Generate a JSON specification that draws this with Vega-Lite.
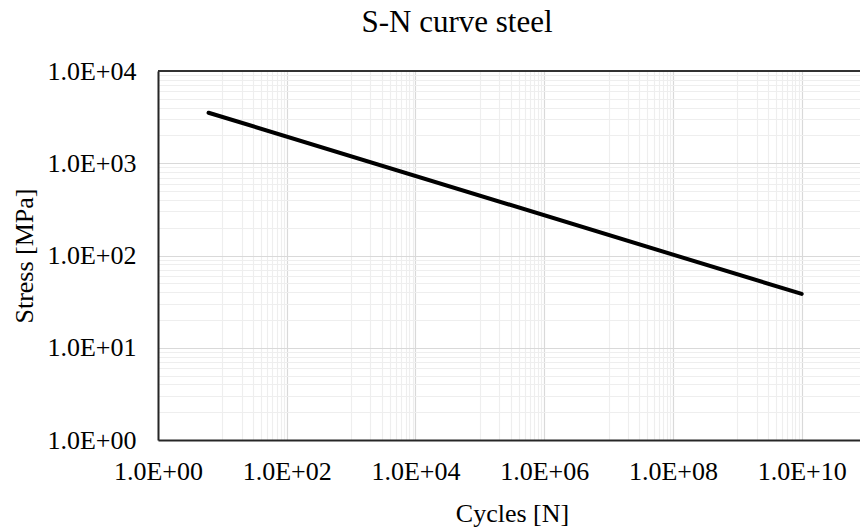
{
  "$schema": "https://vega.github.io/schema/vega-lite/v6.json",
  "width": 702,
  "height": 369,
  "autosize": {"type": "none"},
  "padding": {"left": 158, "top": 71, "right": 0, "bottom": 87},
  "background": "white",
  "title": {
    "text": "S-N curve steel",
    "font": "'Liberation Serif', 'Times New Roman', serif",
    "fontSize": 31,
    "fontWeight": "normal",
    "color": "#000000",
    "anchor": "middle",
    "baseline": "alphabetic",
    "dx": -52,
    "dy": 19,
    "offset": 14
  },
  "config": {
    "view": {"stroke": null},
    "font": "'Liberation Serif', 'Times New Roman', serif",
    "axis": {
      "labelFont": "'Liberation Serif', 'Times New Roman', serif",
      "labelFontSize": 26,
      "labelColor": "#000000",
      "titleFont": "'Liberation Serif', 'Times New Roman', serif",
      "titleFontSize": 26,
      "titleFontWeight": "normal",
      "titleColor": "#000000",
      "ticks": false,
      "tickSize": 0,
      "labelOverlap": false,
      "labelFlush": false,
      "labelBound": false,
      "domainColor": "#262626",
      "domainWidth": 2,
      "grid": true,
      "gridWidth": 1.2
    }
  },
  "data": {
    "values": [
      {"cycles": 6.1, "stress": 3530},
      {"cycles": 10000000000, "stress": 38.3}
    ]
  },
  "layer": [
    {
      "mark": {"type": "rule", "color": "#262626", "strokeWidth": 1.5},
      "encoding": {"y": {"datum": 10000, "type": "quantitative"}}
    },
    {
      "mark": {"type": "line", "color": "#000000", "strokeWidth": 4, "strokeCap": "round"},
      "encoding": {
        "x": {
          "field": "cycles",
          "type": "quantitative",
          "scale": {"type": "log", "domain": [1, 80500000000], "nice": false},
          "axis": {
            "title": "Cycles [N]",
            "titleX": 354,
            "titleY": 81,
            "titleAlign": "center",
            "titleBaseline": "alphabetic",
            "labelPadding": 18,
            "values": [1,
              10, 20, 30, 40, 50, 60, 70, 80, 90, 100,
              1000, 2000, 3000, 4000, 5000, 6000, 7000, 8000, 9000, 10000,
              100000, 200000, 300000, 400000, 500000, 600000, 700000, 800000, 900000, 1000000,
              10000000, 20000000, 30000000, 40000000, 50000000, 60000000, 70000000, 80000000, 90000000, 100000000,
              1000000000, 2000000000, 3000000000, 4000000000, 5000000000, 6000000000, 7000000000, 8000000000, 9000000000, 10000000000],
            "labelExpr": "abs(log(datum.value)/LN10 - round(log(datum.value)/LN10)) < 1e-6 && round(log(datum.value)/LN10) % 2 == 0 ? '1.0E+' + (round(log(datum.value)/LN10) < 10 ? '0' : '') + round(log(datum.value)/LN10) : ''",
            "gridColor": {
              "condition": {"test": "abs(log(datum.value)/LN10 - round(log(datum.value)/LN10)) < 1e-6 && round(log(datum.value)/LN10) % 2 == 0", "value": "#d9d9d9"},
              "value": "#eeeeee"
            }
          }
        },
        "y": {
          "field": "stress",
          "type": "quantitative",
          "scale": {"type": "log", "domain": [1, 10000], "nice": false},
          "axis": {
            "title": "Stress [MPa]",
            "titleAngle": -90,
            "titleX": -126,
            "titleY": 184.5,
            "titleAlign": "center",
            "titleBaseline": "alphabetic",
            "labelPadding": 22,
            "labelBaseline": "middle",
            "values": [1, 2, 3, 4, 5, 6, 7, 8, 9,
              10, 20, 30, 40, 50, 60, 70, 80, 90,
              100, 200, 300, 400, 500, 600, 700, 800, 900,
              1000, 2000, 3000, 4000, 5000, 6000, 7000, 8000, 9000, 10000],
            "labelExpr": "abs(log(datum.value)/LN10 - round(log(datum.value)/LN10)) < 1e-6 ? '1.0E+0' + round(log(datum.value)/LN10) : ''",
            "gridColor": {
              "condition": {"test": "abs(log(datum.value)/LN10 - round(log(datum.value)/LN10)) < 1e-6", "value": "#d9d9d9"},
              "value": "#eeeeee"
            }
          }
        }
      }
    }
  ]
}
